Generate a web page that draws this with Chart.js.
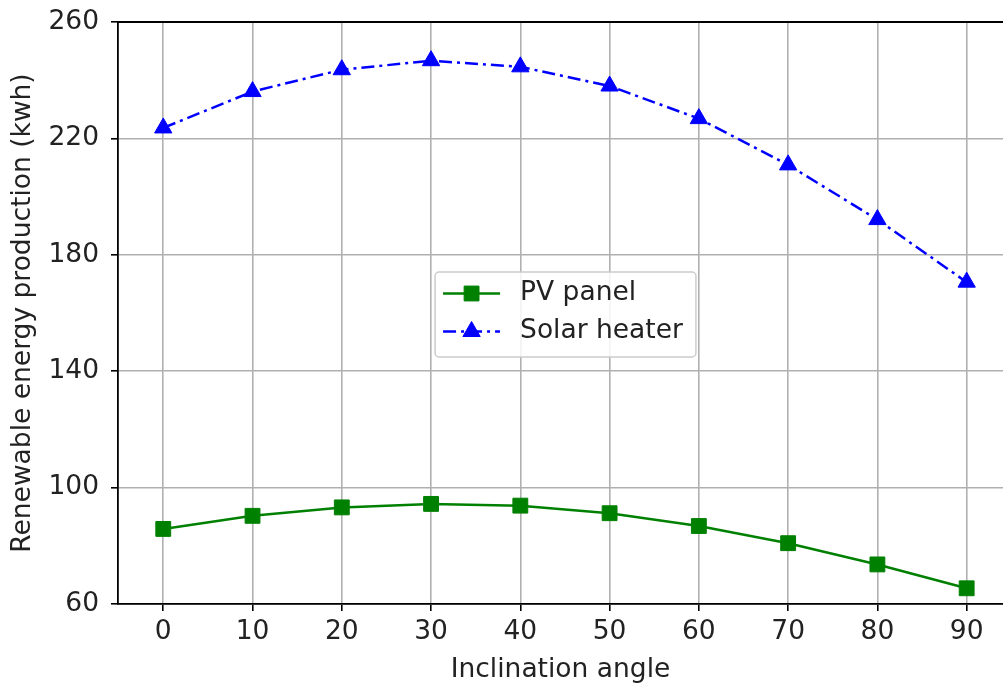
<!DOCTYPE html>
<html>
<head>
<meta charset="utf-8">
<script src="https://cdn.jsdelivr.net/npm/chart.js@4.4.1/dist/chart.umd.min.js"></script>
<style>
  html, body { margin: 0; padding: 0; background: #ffffff; }
  #wrap { width: 1003px; height: 686px; position: relative; }
</style>
</head>
<body>
<div id="wrap"><canvas id="chart"></canvas></div>
<script>
// Inclination angles (degrees)
const angles = [0, 10, 20, 30, 40, 50, 60, 70, 80, 90];
// Yearly production per technology (kWh)
const pvPanel = [85.8, 90.3, 93.2, 94.4, 93.8, 91.2, 86.8, 80.9, 73.6, 65.4];
const solarHeater = [223.6, 236.1, 243.6, 246.7, 244.6, 238.0, 226.8, 210.9, 192.1, 170.6];
// Axis ticks
const xTicks = [0, 10, 20, 30, 40, 50, 60, 70, 80, 90];
const yTicks = [60, 100, 140, 180, 220, 260];

const FONT = 'DejaVu Sans';
const FS = 26.5;
const TEXT = '#222222';

// Matplotlib-style boxed legend drawn in the centre of the plot area
const centreLegend = {
  id: 'centreLegend',
  afterDraw(chart) {
    const { ctx, chartArea } = chart;
    ctx.save();
    ctx.font = FS + 'px "' + FONT + '"';
    const items = chart.data.datasets;
    const textW = Math.max(...items.map(d => ctx.measureText(d.label).width));
    const leftIn = 8, handleLen = 57, gap = 20, rightIn = 13, rowH = 38, vIn = 23.5;
    const w = leftIn + handleLen + gap + textW + rightIn;
    const h = rowH * (items.length - 1) + vIn * 2;
    const cx = (chartArea.left + chartArea.right) / 2 + 5;
    const cy = (chartArea.top + chartArea.bottom) / 2 + 1.5;
    const x0 = cx - w / 2, y0 = cy - h / 2;
    ctx.beginPath();
    ctx.roundRect(x0, y0, w, h, 4);
    ctx.fillStyle = 'rgba(255,255,255,0.85)';
    ctx.fill();
    ctx.strokeStyle = '#cccccc';
    ctx.lineWidth = 1.5;
    ctx.stroke();
    items.forEach((d, i) => {
      const y = y0 + vIn - 2 + rowH * i;
      const hx0 = x0 + leftIn, hx1 = hx0 + handleLen;
      ctx.beginPath();
      ctx.setLineDash(d.borderDash || []);
      ctx.strokeStyle = d.borderColor;
      ctx.lineWidth = d.borderWidth;
      ctx.moveTo(hx0, y);
      ctx.lineTo(hx1, y);
      ctx.stroke();
      ctx.setLineDash([]);
      ctx.fillStyle = d.pointBackgroundColor;
      ctx.strokeStyle = d.pointBorderColor;
      ctx.lineWidth = 1;
      ctx.beginPath();
      Chart.helpers.drawPoint(ctx, {
        pointStyle: d.pointStyle, radius: d.pointRadius, borderWidth: 1, rotation: 0
      }, (hx0 + hx1) / 2, y);
      ctx.fillStyle = TEXT;
      ctx.textBaseline = 'middle';
      ctx.textAlign = 'left';
      ctx.fillText(d.label, hx1 + gap, y);
    });
    ctx.restore();
  }
};

// Top spine of the axes frame
const topSpine = {
  id: 'topSpine',
  afterDraw(chart) {
    const { ctx, chartArea } = chart;
    ctx.save();
    ctx.strokeStyle = '#000000';
    ctx.lineWidth = 1.8;
    ctx.beginPath();
    ctx.moveTo(chartArea.left, chartArea.top);
    ctx.lineTo(chartArea.right, chartArea.top);
    ctx.stroke();
    ctx.restore();
  }
};

// Keep the plot area fixed: no extra room for overhanging tick labels
function noOverhang(s) {
  s.paddingTop = 0; s.paddingBottom = 0; s.paddingLeft = 0; s.paddingRight = 0;
}

new Chart(document.getElementById('chart'), {
  type: 'line',
  data: {
    datasets: [
      {
        label: 'PV panel',
        data: angles.map((a, i) => ({ x: a, y: pvPanel[i] })),
        borderColor: '#008000',
        backgroundColor: '#008000',
        pointBackgroundColor: '#008000',
        pointBorderColor: '#008000',
        borderWidth: 2.5,
        pointStyle: 'rect',
        pointRadius: 10.5,
        pointBorderWidth: 1,
        tension: 0,
        fill: false
      },
      {
        label: 'Solar heater',
        data: angles.map((a, i) => ({ x: a, y: solarHeater[i] })),
        borderColor: '#0000ff',
        backgroundColor: '#0000ff',
        pointBackgroundColor: '#0000ff',
        pointBorderColor: '#0000ff',
        borderWidth: 2.5,
        borderDash: [13, 5, 3, 5],
        pointStyle: 'triangle',
        pointRadius: 10,
        pointBorderWidth: 1,
        tension: 0,
        fill: false
      }
    ]
  },
  options: {
    responsive: true,
    maintainAspectRatio: false,
    animation: false,
    devicePixelRatio: 1,
    layout: { autoPadding: false, padding: { top: 22, right: 0, left: 0, bottom: 0 } },
    plugins: {
      legend: { display: false },
      tooltip: { enabled: false }
    },
    scales: {
      x: {
        type: 'linear',
        min: -5.07,
        max: 94.07,
        afterBuildTicks: s => { s.ticks = xTicks.map(v => ({ value: v })); },
        afterFit: s => { s.height = 82; noOverhang(s); },
        ticks: {
          color: TEXT,
          font: { family: FONT, size: FS },
          padding: 5,
          maxRotation: 0,
          autoSkip: false
        },
        grid: {
          color: '#b0b0b0',
          lineWidth: 1.6,
          tickColor: '#000000',
          tickLength: 7,
          tickWidth: 1.6
        },
        border: { color: '#000000', width: 1.8 },
        title: {
          display: true,
          text: 'Inclination angle',
          color: TEXT,
          font: { family: FONT, size: FS },
          padding: { top: 0, bottom: 0 }
        }
      },
      y: {
        type: 'linear',
        min: 60,
        max: 260,
        afterBuildTicks: s => { s.ticks = yTicks.map(v => ({ value: v })); },
        afterFit: s => { s.width = 118; noOverhang(s); },
        ticks: {
          color: TEXT,
          font: { family: FONT, size: FS },
          padding: 12
        },
        grid: {
          color: '#b0b0b0',
          lineWidth: 1.6,
          tickColor: '#000000',
          tickLength: 7,
          tickWidth: 1.6
        },
        border: { color: '#000000', width: 1.8 },
        title: {
          display: true,
          text: 'Renewable energy production (kwh)',
          color: TEXT,
          font: { family: FONT, size: FS },
          padding: { top: 7, bottom: 0 }
        }
      }
    }
  },
  plugins: [topSpine, centreLegend]
});
</script>
</body>
</html>
